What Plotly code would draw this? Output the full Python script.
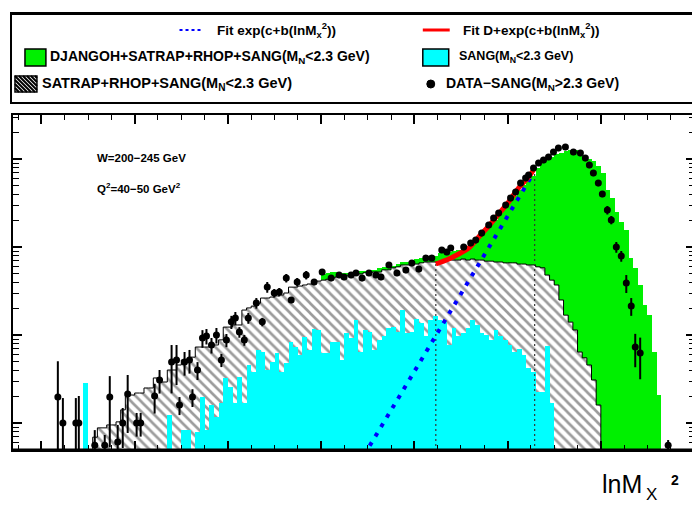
import plotly.graph_objects as go

# ---------------- data ----------------
BIN_W = 0.05

# SANG (M_N < 2.3 GeV), cyan histogram, bins start at 0.45
cyan_start = 0.45
cyan_vals = [2.85] + [None] * 17 + [
    1.23, None, None, 0.83, 0.83, None, 0.79, 1.97, 0.83, 1.6,
    1.17, 1.69, 3.25, 2.56, 1.69, 3.33, 1.69, 4.56, 3.8, 6.75,
    6.4, 4.0, 4.93, 6.25, 3.8, 4.8, 8.3, 7.3, 5.9, 9.5,
    6.75, 11.7, 11.4, 6.25, 6.25, 8.3, 8.3, 5.2, 10.5, 9.2,
    14.8, 6.4, 11.4, 10.8, 6.75, 8.8, 9.7, 12.0, 12.3, 10.8,
    19.2, 10.5, 10.8, 15.2, 13.7, 9.7, 14.8, 16.4, 14.8, 14.0,
    7.7, 12.0, 9.7, 10.5, 12.0, 14.8, 13.0, 10.5, 10.0, 8.8,
    11.4, 9.7, 8.8, 7.7, 6.4, 6.9, 5.9, 4.2, 3.8, 2.25,
    2.25, 7.5, 1.69]

# SATRAP+RHOP+SANG (M_N < 2.3 GeV), hatched histogram, bins start at 0.55
hatch_start = 0.55
hatch_vals = [
    0.69, 0.88, 0.88, 0.95, 0.95, 1.03, 1.41, 2.08, 2.08, 2.19,
    2.19, 2.5, 2.5, 3.25, 2.92, 2.92, 4.0, 4.0, 4.56, 5.2,
    5.2, 5.6, 7.3, 7.3, 7.3, 7.7, 7.7, 8.8, 12.3, 12.3,
    13.0, 13.0, 19.2, 20.3, 21.3, 23.0, 26.3, 26.3, 27.0, 27.8,
    28.5, 30.0, 35.0, 35.0, 36.0, 37.0, 38.0, 40.0, 41.0, 42.0,
    43.0, 44.5, 45.7, 47.0, 47.0, 48.0, 49.5, 49.5, 51.0, 51.0,
    52.0, 52.0, 55.0, 55.0, 58.0, 59.5, 62.5, 62.5, 64.0, 64.0,
    66.0, 67.5, 67.5, 67.5, 67.5, 69.0, 71.0, 71.0, 71.0, 73.0,
    71.0, 73.0, 71.0, 71.0, 69.0, 69.0, 67.5, 67.5, 66.0, 66.0,
    66.0, 64.0, 64.0, 62.5, 62.5, 59.5, 58.0, 48.0, 42.0, 37.0,
    25.0, 16.8, 14.0, 11.4, 6.4, 5.5, 4.56, 3.08, 1.6]

# DJANGOH+SATRAP+RHOP+SANG (M_N < 2.3 GeV), green histogram, bins start at 3.00
green_start = 3.00
green_vals = [
    49.5, 51, 52, 52, 51, 51, 51, 52, 54, 54,
    55, 55, 58, 59.5, 59.5, 61, 64, 67.5, 67.5, 69,
    73, 75, 75, 77, 79, 85, 85, 88, 90, 92,
    97, 103, 111, 126, 148, 164, 183, 202, 244, 277,
    324, 380, 442, 508, 574, 640, 790, 900, 970, 1060,
    1140, 1170, 1240, 1260, 1260, 1240, 1090, 1000, 950, 830,
    690, 442, 360, 250, 192, 156, 75, 58, 37, 22,
    16.8, 6.4, 2.1]

# DATA - SANG (M_N > 2.3 GeV)
data_x = [0.176, 0.230, 0.369, 0.401, 0.572, 0.679, 0.733, 0.818, 0.872, 0.925,
          1.021, 1.064, 1.214, 1.267, 1.396, 1.449, 1.481, 1.535, 1.588, 1.620,
          1.674, 1.727, 1.770, 1.824, 1.877, 1.930, 1.984, 2.037, 2.080, 2.123,
          2.176, 2.219, 2.305, 2.369, 2.422, 2.497, 2.551, 2.626, 2.679, 2.743,
          2.840, 2.925, 3.011, 3.107, 3.193, 3.246, 3.321, 3.374, 3.439, 3.513,
          3.588, 3.642, 3.727, 3.813, 3.909, 3.973, 4.048, 4.123, 4.187, 4.294,
          4.348, 4.390, 4.529, 4.604, 4.658, 4.722, 4.797, 4.850, 4.904, 4.979,
          5.032, 5.086, 5.139, 5.193, 5.225, 5.278, 5.332, 5.385, 5.439, 5.492,
          5.545, 5.620, 5.706, 5.781, 5.834, 5.877, 5.920, 5.973, 6.016, 6.070,
          6.112, 6.166, 6.219, 6.273, 6.326, 6.369, 6.422, 6.722]
data_y = [1.97, 1.0, 1.0, 1.0, 0.56, 0.56, 1.97, 0.61, 1.0, 2.14,
          1.0, 1.0, 2.03, 3.08, 4.93, 5.2, 1.6, 4.93, 5.2, 1.97,
          4.0, 9.25, 9.75, 7.7, 10.0, 5.2, 8.77, 14.1, 15.6, 10.8,
          8.77, 15.6, 23.1, 14.1, 35.1, 30.0, 30.8, 44.4, 25.0, 40.0,
          48.1, 40.0, 52.0, 44.4, 48.1, 45.6, 48.1, 50.7, 44.4, 50.7,
          48.1, 45.6, 62.4, 50.7, 54.8, 65.8, 56.2, 75.0, 75.0, 92.5,
          87.7, 97.4, 100, 111, 120, 144, 178, 214, 243, 300,
          360, 422, 533, 608, 658, 790, 901, 975, 1054, 1202,
          1334, 1369, 1202, 1170, 1026, 855, 693, 533, 400, 263,
          203, 100, 79, 39, 21.4, 7.3, 6.24, 0.56]
data_err = [3.07, 0.92, 0.92, 1.03, 0.27, 0.17, 1.44, 0.34, 0.48, 1.37,
            0.30, 0.30, 0.75, 0.92, 2.76, 2.5, 0.37, 1.48, 1.56, 0.45,
            0.92, 2.1, 1.95, 1.54, 2.0, 0.88, 1.5, 2.4, 2.65, 1.5,
            1.23, 2.2, 3.2, 1.55, 4.9, 3.3, 3.4, 4.9, 2.0, 4.4,
            5.3, 3.2, 4.2, 3.6, 3.8, 3.6, 3.8, 4.0, 3.6, 4.0,
            3.8, 3.6, 5.0, 4.0, 4.4, 5.3, 4.5, 6.0, 6.0, 7.4,
            7.0, 7.8, 8, 9, 10, 12, 14, 17, 19, 24,
            29, 34, 43, 49, 53, 63, 72, 78, 84, 96,
            107, 110, 96, 94, 82, 68, 55, 43, 32, 29,
            22, 14, 11, 9, 4.9, 3.0, 3.1, 0.08]

# fits
fit_exp_x = [3.460, 5.278]
fit_exp_y = [0.43, 693]
fit_d_x = [4.230, 4.369, 4.476, 4.583, 4.690, 4.797, 4.904, 5.011, 5.118, 5.225, 5.278]
fit_d_y = [64.1, 73.1, 83.3, 97.4, 130, 173, 237, 325, 468, 624, 750]
fit_range = [4.23, 5.29]
fit_range_top = [64, 700]

# ---------------- geometry (page pixels) ----------------
PAGE_W, PAGE_H = 700, 511
OFF = 8                      # default body margin of the html page
L, R, T, B = 13, 697, 115, 450   # plot frame in page pixels


def px(xp):
    return (xp - L) / (R - L)


def py(yp):
    return (B - yp) / (B - T)


def centers(start, n):
    return [round(start + BIN_W * (i + 0.5), 4) for i in range(n)]


fig = go.Figure()

fig.add_trace(go.Bar(x=centers(green_start, len(green_vals)), y=green_vals, width=BIN_W,
                     marker=dict(color="#00f000", line=dict(width=0)), showlegend=False))
fig.add_trace(go.Bar(x=centers(hatch_start, len(hatch_vals)), y=hatch_vals, width=BIN_W,
                     marker=dict(color="white", line=dict(width=0),
                                 pattern=dict(shape="\\", fgcolor="#3a3a3a", bgcolor="white",
                                              size=7, solidity=0.38)),
                     showlegend=False))
fig.add_trace(go.Bar(x=centers(cyan_start, len(cyan_vals)), y=cyan_vals, width=BIN_W,
                     marker=dict(color="#00ffff", line=dict(width=0)), showlegend=False))

# outline of hatched histogram
edges = [round(hatch_start + BIN_W * i, 4) for i in range(len(hatch_vals) + 1)]
fig.add_trace(go.Scatter(x=[edges[0]] + edges[:-1] + [edges[-1]],
                         y=[0.1] + hatch_vals + [0.1],
                         mode="lines", line=dict(color="black", width=1, shape="hv"),
                         showlegend=False, hoverinfo="skip"))

# fit-range markers
for xv, top in zip(fit_range, fit_range_top):
    fig.add_trace(go.Scatter(x=[xv, xv], y=[0.1, top], mode="lines",
                             line=dict(color="#333333", width=1.2, dash="2px,3px"),
                             showlegend=False, hoverinfo="skip"))

fig.add_trace(go.Scatter(x=fit_exp_x, y=fit_exp_y, mode="lines",
                         line=dict(color="#0000ff", width=4, dash="4px,7px"),
                         showlegend=False))
fig.add_trace(go.Scatter(x=fit_d_x, y=fit_d_y, mode="lines",
                         line=dict(color="#ff0000", width=5, shape="spline"),
                         showlegend=False))
fig.add_trace(go.Scatter(x=data_x, y=data_y, mode="markers",
                         marker=dict(color="black", size=7),
                         error_y=dict(type="data", array=data_err, color="black",
                                      thickness=2, width=0),
                         showlegend=False))

# ---------------- legend box drawn by hand ----------------
shapes = []
shapes.append(dict(type="rect", xref="paper", yref="paper", x0=px(11), x1=px(697),
                   y0=py(103), y1=py(13), line=dict(color="black", width=2)))
shapes.append(dict(type="line", xref="paper", yref="paper", x0=px(11), x1=px(697),
                   y0=py(13.5), y1=py(13.5), line=dict(color="black", width=3)))
# blue dotted sample
shapes.append(dict(type="line", xref="paper", yref="paper", x0=px(180), x1=px(204),
                   y0=py(30), y1=py(30), line=dict(color="#0000ff", width=2, dash="3px,3px")))
# red sample
shapes.append(dict(type="line", xref="paper", yref="paper", x0=px(424), x1=px(451),
                   y0=py(30), y1=py(30), line=dict(color="#ff0000", width=3)))
# green box
shapes.append(dict(type="rect", xref="paper", yref="paper", x0=px(25), x1=px(46),
                   y0=py(66), y1=py(49), fillcolor="#00f000", line=dict(color="black", width=1.5)))
# cyan box
shapes.append(dict(type="rect", xref="paper", yref="paper", x0=px(424), x1=px(450),
                   y0=py(66), y1=py(49), fillcolor="#00ffff", line=dict(color="black", width=1.5)))
# hatched box
shapes.append(dict(type="rect", xref="paper", yref="paper", x0=px(15), x1=px(37),
                   y0=py(92), y1=py(76), fillcolor="white", line=dict(color="black", width=1.5)))
for k in range(-16, 23, 4):
    xa, xb = 15 + k, 15 + k + 16
    ya, yb = 76, 92
    if xa < 15:
        ya = 76 + (15 - xa)
        xa = 15
    if xb > 37:
        yb = 92 - (xb - 37)
        xb = 37
    if ya < yb:
        shapes.append(dict(type="line", xref="paper", yref="paper", x0=px(xa), x1=px(xb),
                           y0=py(ya), y1=py(yb), line=dict(color="black", width=2)))
# data dot
shapes.append(dict(type="circle", xref="paper", yref="paper", x0=px(428), x1=px(436),
                   y0=py(88), y1=py(80), fillcolor="black", line=dict(color="black", width=1)))
# thicker bottom axis
shapes.append(dict(type="line", xref="paper", yref="paper", x0=0, x1=1, y0=0, y1=0,
                   line=dict(color="black", width=3)))

FONT = "Liberation Sans, Arial, sans-serif"
ann = []


def txt(s, xp, yp, size=13.5, anchor="left", family=FONT):
    ann.append(dict(text=s, xref="paper", yref="paper", x=px(xp), y=py(yp),
                    xanchor=anchor, yanchor="middle", showarrow=False,
                    font=dict(family=family, size=size, color="black")))


txt("<b>Fit exp(c+b(lnM<sub>x</sub><sup>2</sup>))</b>", 216, 30, 13.5)
txt("<b>Fit D+exp(c+b(lnM<sub>x</sub><sup>2</sup>))</b>", 462, 30, 13.5)
txt("<b>DJANGOH+SATRAP+RHOP+SANG(M<sub>N</sub>&lt;2.3 GeV)</b>", 48, 57, 14)
txt("<b>SANG(M<sub>N</sub>&lt;2.3 GeV)</b>", 458, 57, 12.5)
txt("<b>SATRAP+RHOP+SANG(M<sub>N</sub>&lt;2.3 GeV)</b>", 40, 84, 14.5)
txt("<b>DATA\u2212SANG(M<sub>N</sub>&gt;2.3 GeV)</b>", 445, 84, 14)
txt("<b>W=200\u2212245 GeV</b>", 95, 158, 11.5)
txt("<b>Q<sup>2</sup>=40\u221250 GeV<sup>2</sup></b>", 95, 188, 11.5)
# axis title
txt("lnM", 602, 484, size=25)
txt("X", 646, 494, size=17)
txt("<b>2</b>", 671, 480, size=14)

ydec = [1, 10, 100, 1000]
yminor = [m * 10 ** e for e in range(-1, 4) for m in range(2, 10)]

fig.update_layout(
    width=PAGE_W - OFF, height=PAGE_H - OFF, autosize=False,
    margin=dict(l=L - OFF, r=PAGE_W - R, t=T - OFF, b=PAGE_H - B, pad=0),
    paper_bgcolor="white", plot_bgcolor="white",
    barmode="overlay", bargap=0, showlegend=False,
    shapes=shapes, annotations=ann,
    xaxis=dict(range=[-0.305, 7.01], showline=True, linecolor="black", linewidth=2,
               mirror="ticks", ticks="inside", tick0=0, dtick=1, ticklen=9, tickwidth=1.5,
               tickcolor="black", showticklabels=False, showgrid=False, zeroline=False,
               minor=dict(ticks="inside", tick0=0, dtick=0.25, ticklen=5, tickwidth=1,
                          tickcolor="black", showgrid=False)),
    yaxis=dict(type="log", range=[-0.307, 3.5], showline=True, linecolor="black",
               linewidth=2, mirror="ticks", ticks="inside", tickmode="array",
               tickvals=ydec, ticklen=9, tickwidth=1.5, tickcolor="black",
               showticklabels=False, showgrid=False, zeroline=False,
               minor=dict(ticks="inside", tickmode="array", tickvals=yminor, ticklen=6,
                          tickwidth=1, tickcolor="black", showgrid=False)),
)

fig.write_html("out.html")
